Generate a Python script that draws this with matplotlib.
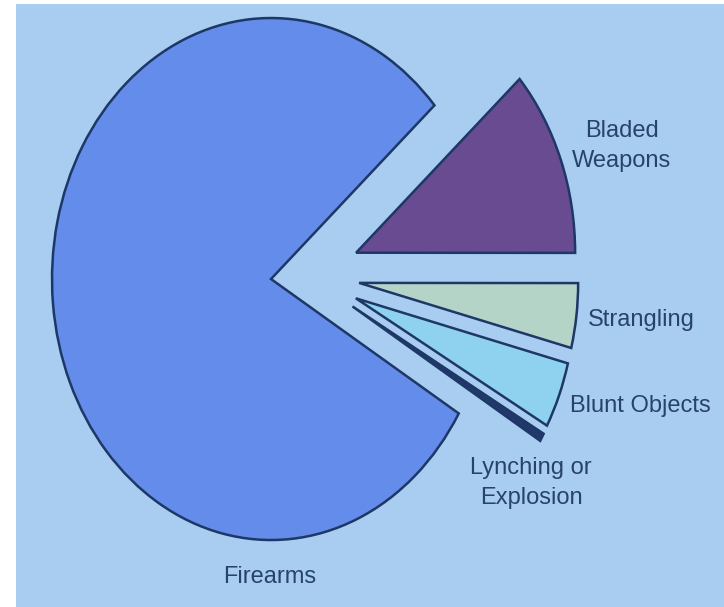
import numpy as np
import matplotlib
matplotlib.use('Agg')
import matplotlib.pyplot as plt

# weapon categories and their share of cases (percent)
labels = ['Firearms', 'Bladed\nWeapons', 'Strangling', 'Blunt Objects', 'Lynching or\nExplosion']
shares = [79.8, 11.6, 4.0, 4.1, 0.5]
colors = ['#648cea', '#694b91', '#b4d4c8', '#8ed2f0', '#22386b']
explode = [0.165, 0.24, 0.24, 0.24, 0.24]

bg = '#a9cdf0'
text_color = '#27436a'

W, H = 724, 607
fig = plt.figure(figsize=(W / 100, H / 100), dpi=100)
fig.patch.set_facecolor('white')

# axes pixel box (left, top)
left_px, top_px = 16, 4
ax = fig.add_axes([left_px / W, 0, (W - left_px) / W, (H - top_px) / H])
ax.set_facecolor(bg)

wedges, _ = ax.pie(shares, colors=colors, explode=explode, startangle=-31,
                   counterclock=False,
                   wedgeprops=dict(edgecolor='#1d3866', linewidth=1.8))

# pie centre and radius in pixels; the pie is stretched vertically
cx, cy = 307.0, 275.0
rx, ry = 219.0, 261.0
ax.set_aspect('auto')
ax.set_xlim((left_px - cx) / rx, (W - cx) / rx)
ax.set_ylim((cy - H) / ry, (cy - top_px) / ry)
ax.axis('off')
ax.add_patch(plt.Rectangle((0, 0), 1, 1, transform=ax.transAxes,
                           facecolor=bg, edgecolor='none', zorder=-5))

# label positions in pixels
label_px = [(270, 577), (622, 146), (641, 320), (640, 406), (531, 483)]
for lab, (px, py) in zip(labels, label_px):
    fig.text(px / W, 1 - py / H, lab, ha='center', va='center',
             fontsize=17, color=text_color, family=['Liberation Sans', 'DejaVu Sans'],
             linespacing=1.45)

plt.savefig('out.png', dpi=100, facecolor='white')
